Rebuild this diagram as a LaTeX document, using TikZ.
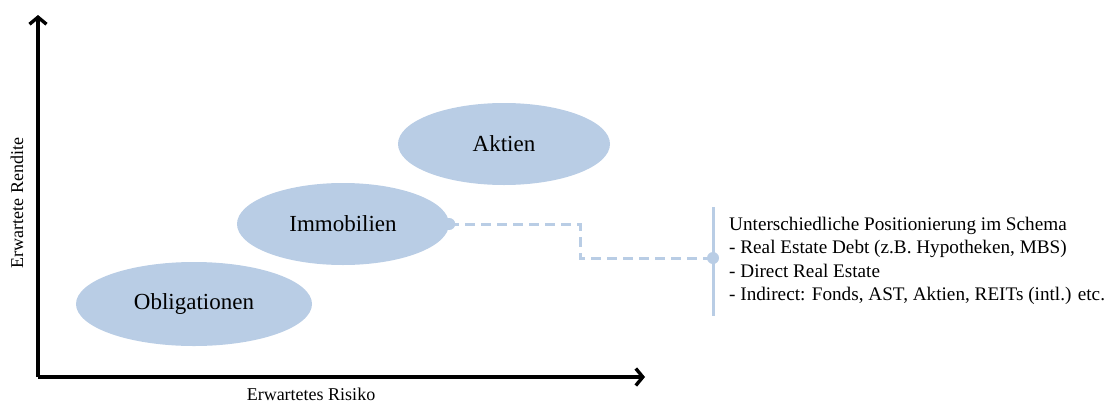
\documentclass[tikz,border=0pt]{standalone}
\usepackage{fontspec}
\setmainfont{Liberation Serif}
\usetikzlibrary{arrows.meta,shapes.geometric}
\definecolor{lightblue}{HTML}{B9CDE5}

\tikzset{
  axis/.style={line width=3.4pt, -{Straight Barb[length=7pt,width=17pt,line width=3.4pt]}},
  blob/.style={ellipse, fill=lightblue, draw=none, inner sep=0pt, font=\fontsize{23}{26}\selectfont},
  link/.style={lightblue, line width=3pt, dash pattern=on 10pt off 6pt},
  dot/.style={circle, fill=lightblue, inner sep=0pt, minimum size=12pt}
}

\begin{document}
\begin{tikzpicture}[x=1pt,y=-1pt]
\useasboundingbox (0,0) rectangle (1116,405);

% axes
\coordinate (o) at (38,377);
\draw [axis] (o) -- (38,15);
\draw [axis] (o) -- (645,377);
\node (risk) at (311,394) {\fontsize{18}{20}\selectfont Erwartetes Risiko};
\node [rotate=90] (ret) at (17,203) {\fontsize{18}{20}\selectfont Erwartete Rendite};

% asset classes
\node [blob, minimum width=236pt, minimum height=84pt] (obl) at (194,304) {Obligationen};
\node [blob, minimum width=212pt, minimum height=82pt] (immo) at (343,224) {Immobilien};
\node [blob, minimum width=212pt, minimum height=82pt] (akt) at (504,144) {Aktien};

% note on real estate
\coordinate (top) at (713,207);
\coordinate (bot) at (713,316);
\draw [lightblue, line width=3pt] (top) -- (bot);
\coordinate (hit) at (713,258);
\node [anchor=north west, align=left, inner sep=0pt, font=\fontsize{19.2}{23.3}\selectfont] (note) at (729,217)
  {Unterschiedliche Positionierung im Schema\\
   - Real Estate Debt (z.B. Hypotheken, MBS)\\
   - Direct Real Estate\\
   - Indirect: Fonds, AST, Aktien, REITs (intl.) etc.};

\draw [link] (immo.east) -| (580,258) -- (hit);
\node [dot] at (immo.east) {};
\node [dot] at (hit) {};

\end{tikzpicture}
\end{document}
